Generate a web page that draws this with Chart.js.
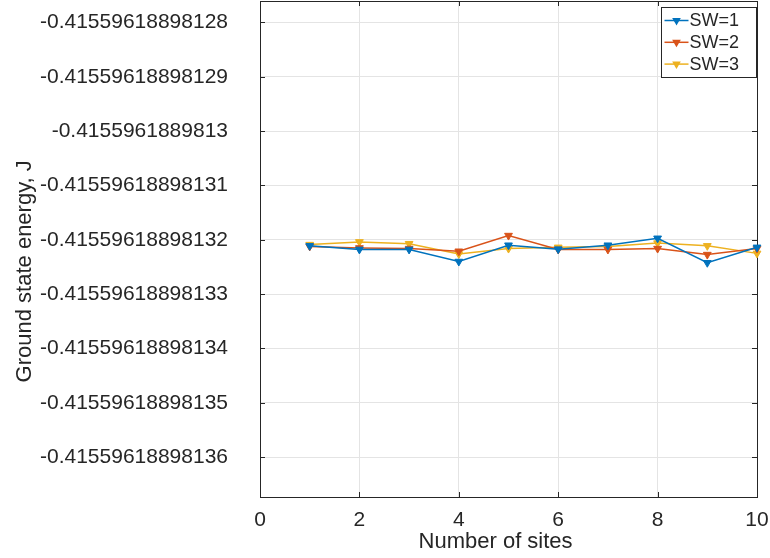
<!DOCTYPE html>
<html>
<head>
<meta charset="utf-8">
<script src="https://cdn.jsdelivr.net/npm/chart.js@4.4.1/dist/chart.umd.min.js"></script>
<style>
    html, body { margin: 0; padding: 0; background: #ffffff; }
    #wrap { width: 770px; height: 558px; }
</style>
</head>
<body>
<div id="wrap"><canvas id="energyChart" width="770" height="558"></canvas></div>
<script>
const sites = [1, 2, 3, 4, 5, 6, 7, 8, 9, 10];
const sw1 = [-0.4155961889813211, -0.4155961889813218, -0.4155961889813218, -0.4155961889813240, -0.4155961889813210,
             -0.4155961889813217, -0.4155961889813210, -0.4155961889813197, -0.4155961889813242, -0.4155961889813214];
const sw2 = [-0.4155961889813212, -0.4155961889813215, -0.4155961889813216, -0.4155961889813221, -0.4155961889813192,
             -0.4155961889813218, -0.4155961889813218, -0.4155961889813216, -0.4155961889813227, -0.4155961889813216];
const sw3 = [-0.4155961889813209, -0.4155961889813204, -0.4155961889813207, -0.4155961889813226, -0.4155961889813216,
             -0.4155961889813214, -0.4155961889813212, -0.4155961889813206, -0.4155961889813211, -0.4155961889813225];
const seriesLabels = ['SW=1', 'SW=2', 'SW=3'];

const xTicks = [0, 2, 4, 6, 8, 10];
const yTicks = [-0.41559618898128, -0.41559618898129, -0.4155961889813, -0.41559618898131, -0.41559618898132,
                -0.41559618898133, -0.41559618898134, -0.41559618898135, -0.41559618898136];
const yTickLabels = ['-0.41559618898128', '-0.41559618898129', '-0.4155961889813', '-0.41559618898131',
                     '-0.41559618898132', '-0.41559618898133', '-0.41559618898134', '-0.41559618898135',
                     '-0.41559618898136'];
const yMin = -0.4155961889813673;
const yMax = -0.4155961889812761;
const xTitle = 'Number of sites';
const yTitle = 'Ground state energy, J';

const fontFamily = '"Liberation Sans", Arial, Helvetica, sans-serif';
const axisColor = '#262626';
const gridColor = '#e4e4e4';
const colors = ['#0072bd', '#d95319', '#edb120'];

const toPoints = (values) => sites.map((x, i) => ({ x: x, y: values[i] }));

// box, inward ticks, axis labels and the legend drawn the MATLAB way
const matlabFrame = {
    id: 'matlabFrame',
    beforeDatasetsDraw(chart) {
        const { ctx, chartArea: a, scales } = chart;
        ctx.save();
        ctx.strokeStyle = axisColor;
        ctx.lineWidth = 1;
        ctx.beginPath();
        scales.x.ticks.forEach((t) => {
            const px = Math.round(scales.x.getPixelForValue(t.value)) + 0.5;
            ctx.moveTo(px, a.bottom); ctx.lineTo(px, a.bottom - 5);
            ctx.moveTo(px, a.top); ctx.lineTo(px, a.top + 5);
        });
        scales.y.ticks.forEach((t) => {
            const py = Math.round(scales.y.getPixelForValue(t.value)) + 0.5;
            ctx.moveTo(a.left, py); ctx.lineTo(a.left + 5, py);
            ctx.moveTo(a.right, py); ctx.lineTo(a.right - 5, py);
        });
        ctx.stroke();
        ctx.strokeRect(Math.round(a.left) + 0.5, Math.round(a.top) + 0.5,
            Math.round(a.right - a.left), Math.round(a.bottom - a.top));

        ctx.fillStyle = axisColor;
        ctx.font = '22px ' + fontFamily;
        ctx.textAlign = 'center';
        ctx.textBaseline = 'middle';
        ctx.fillText(xTitle, a.left + (a.right - a.left) * 0.474, a.bottom + 45);
        ctx.translate(25, a.top + (a.bottom - a.top) * 0.545);
        ctx.rotate(-Math.PI / 2);
        ctx.fillText(yTitle, 0, 0);
        ctx.restore();
    },
    afterDatasetsDraw(chart) {
        const { ctx, chartArea: a } = chart;
        const boxW = 95;
        const boxH = 70;
        const bx = Math.round(a.right) - boxW - 1 + 0.5;
        const by = 7.5;
        ctx.save();
        ctx.fillStyle = '#ffffff';
        ctx.fillRect(bx, by, boxW, boxH);
        ctx.strokeStyle = axisColor;
        ctx.lineWidth = 1;
        ctx.strokeRect(bx, by, boxW, boxH);
        ctx.font = '18px ' + fontFamily;
        ctx.textBaseline = 'middle';
        chart.data.datasets.forEach((ds, i) => {
            const y = by + 13 + i * 21.8;
            ctx.strokeStyle = ds.borderColor;
            ctx.lineWidth = 1.5;
            ctx.beginPath();
            ctx.moveTo(bx + 3, y);
            ctx.lineTo(bx + 27, y);
            ctx.stroke();
            Chart.helpers.drawPoint(ctx, {
                pointStyle: 'triangle', rotation: 180, radius: 3.5, borderWidth: 1
            }, bx + 15, y);
            ctx.fillStyle = ds.borderColor;
            ctx.fill();
            ctx.fillStyle = axisColor;
            ctx.fillText(ds.label, bx + 28, y + 1);
        });
        ctx.restore();
    },
};

const makeDataset = (label, values, color) => ({
    label: label,
    data: toPoints(values),
    borderColor: color,
    backgroundColor: color,
    borderWidth: 1.5,
    pointStyle: 'triangle',
    pointRotation: 180,
    pointRadius: 4.5,
    pointBorderWidth: 1,
    tension: 0,
    clip: false,
});

new Chart(document.getElementById('energyChart'), {
    type: 'line',
    data: {
        datasets: [
            makeDataset(seriesLabels[0], sw1, colors[0]),
            makeDataset(seriesLabels[1], sw2, colors[1]),
            makeDataset(seriesLabels[2], sw3, colors[2]),
        ],
    },
    options: {
        responsive: false,
        animation: false,
        devicePixelRatio: 1,
        layout: { autoPadding: false, padding: { top: 1, right: 13, left: 0, bottom: 0 } },
        plugins: {
            legend: { display: false },
            tooltip: { enabled: false },
        },
        scales: {
            x: {
                type: 'linear',
                min: 0,
                max: 10,
                afterBuildTicks: (scale) => { scale.ticks = xTicks.map((v) => ({ value: v })); },
                afterFit: (scale) => {
                    scale.height = 61;
                    scale.paddingLeft = 0;
                    scale.paddingRight = 0;
                },
                grid: { color: gridColor, drawTicks: false },
                border: { display: false },
                ticks: {
                    autoSkip: false,
                    maxRotation: 0,
                    padding: 11,
                    color: axisColor,
                    font: { family: fontFamily, size: 21 },
                },
            },
            y: {
                type: 'linear',
                min: yMin,
                max: yMax,
                bounds: 'data',
                afterBuildTicks: (scale) => { scale.ticks = yTicks.map((v) => ({ value: v })); },
                afterFit: (scale) => {
                    scale.width = 260;
                    scale.paddingTop = 0;
                    scale.paddingBottom = 0;
                },
                grid: { color: gridColor, drawTicks: false },
                border: { display: false },
                ticks: {
                    autoSkip: false,
                    padding: 32,
                    color: axisColor,
                    font: { family: fontFamily, size: 21 },
                    callback: (value, index) => yTickLabels[index],
                },
            },
        },
    },
    plugins: [matlabFrame],
});
</script>
</body>
</html>
